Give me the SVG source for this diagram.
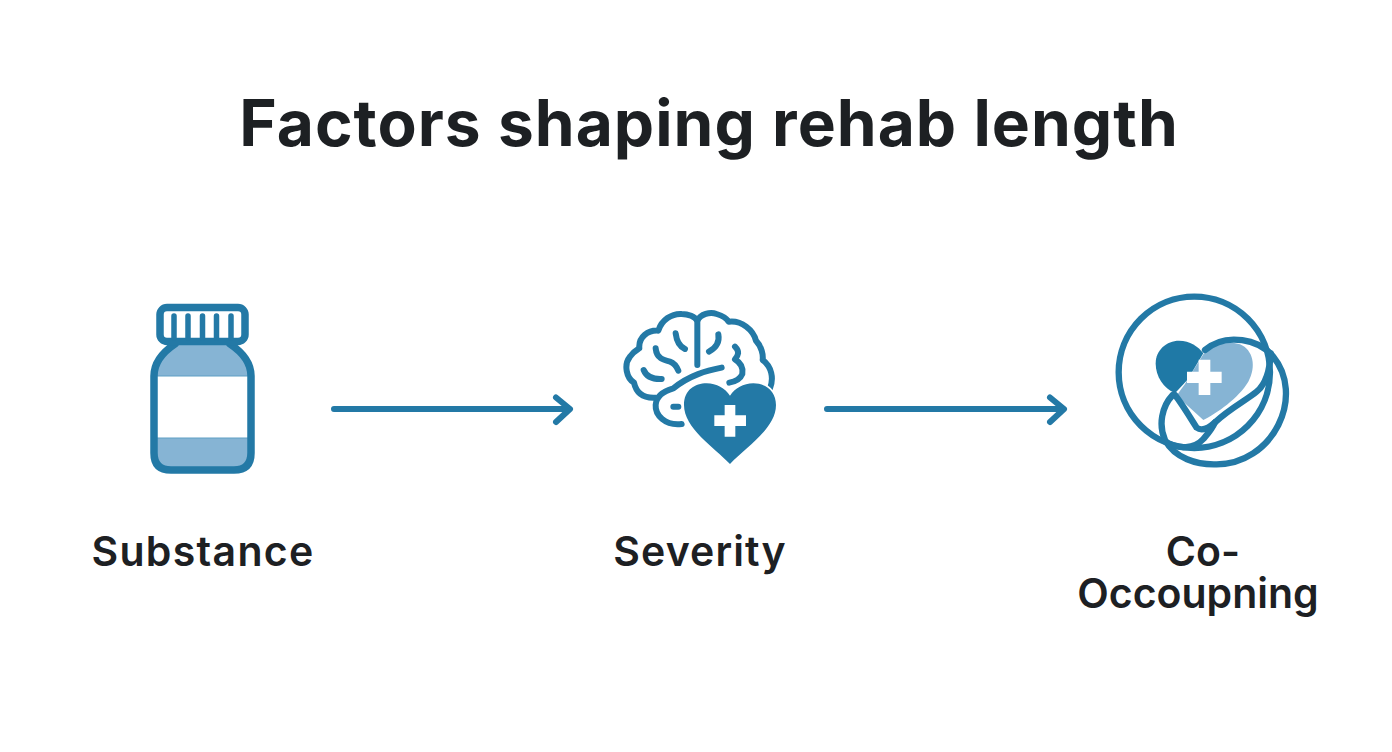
<svg xmlns="http://www.w3.org/2000/svg" width="1392" height="752" viewBox="0 0 1392 752">
<style>
.t{font-family:Inter,"Liberation Sans",sans-serif;font-weight:600;fill:#1d2023;text-anchor:middle}
.lb{font-size:41px}
.s{fill:none;stroke:#2379a6;stroke-linecap:round;stroke-linejoin:round}
.f{fill:#2379a6}
.li{fill:#86b4d4}
.conn{fill:none;stroke:#2379a6;stroke-width:6;stroke-linecap:round;stroke-linejoin:round}
</style>
<rect width="1392" height="752" fill="#fff"/>
<text id="title" class="t" x="709" y="146" font-size="64" letter-spacing="1.030" style="font-weight:700">Factors shaping rehab length</text>
<g id="connectors" class="conn">
<path d="M334 409H569M556 397.500L570 409L556 422"/>
<path d="M827 409H1063M1050 397.500L1064 409L1050 422"/>
</g>
<g id="node-substance">
<path class="li" d="M175 345H231L251 368V460Q251 470 240 470H165Q154 470 154 460V368Z"/>
<rect x="154" y="376" width="97" height="62" fill="#fff"/>
<path d="M157 376H248M157 438H248" stroke="#5f9fc4" stroke-width="1" fill="none"/>
<path class="s" stroke-width="7.500" d="M175 344Q154 358 154 376V453Q154 470 171 470H234Q251 470 251 453V376Q251 358 230 344"/>
<rect class="s" x="160" y="307.500" width="85" height="34" rx="7" stroke-width="7.500"/>
<path class="s" stroke-width="5.500" d="M174 316V338M188 316V338M202.500 316V338M216.500 316V338M231 316V338"/>
<text class="t lb" x="203" y="566" letter-spacing="1.300">Substance</text>
</g>
<g id="node-severity">
<g transform="translate(610 300) scale(.3333)">
<g class="s" stroke-width="18">
<path d="M215 372C165 378 135 345 137 315C139 285 165 272 190 265C240 225 290 212 335 203"/>
<path d="M137 293C105 295 80 285 72 248C50 235 40 195 60 170C70 155 80 150 88 145C85 110 115 90 145 92C155 60 185 40 215 42C235 42 255 50 262 62C272 42 300 35 320 42C340 48 350 55 356 65C395 60 430 90 438 122C455 140 460 165 458 180C485 200 492 235 480 265"/>
<path d="M262 62V195"/>
<path d="M197 100C200 125 210 140 225 147"/>
<path d="M325 103C330 130 315 145 297 155"/>
<path d="M137 145C140 175 160 180 180 185C195 190 200 200 205 212"/>
<path d="M101 210C110 232 130 238 155 237"/>
<path d="M375 140C390 155 385 165 375 178C395 190 400 205 397 222C390 240 375 245 358 248"/>
<path d="M190 320H205"/>
</g>
<path d="M360 492C310 440 222 385 222 315C222 270 255 250 290 250C320 250 345 265 360 287C375 265 400 250 430 250C470 250 498 275 498 315C498 385 410 440 360 492Z" class="f" stroke="#fff" stroke-width="10" paint-order="stroke"/>
<path fill="#fff" d="M344 315H376V346H408V378H376V410H344V378H313V346H344Z"/>
</g>
<text class="t lb" x="700" y="566" letter-spacing="1.100">Severity</text>
</g>
<g id="node-co-occoupning">
<g transform="translate(1100 285) scale(.3333)">
<path d="M310 208C340 178 385 165 420 178C460 195 470 245 445 290C415 340 350 385 310 405L230 332C245 310 258 295 262 285Z" class="li"/>
<path d="M225 325C190 310 167 275 167 235C167 195 200 167 237 167C270 167 295 185 310 205L262 285Z" fill="#1f79a6"/>
<path fill="#fff" d="M296 224H331V260H365V294H331V330H296V294H261V260H296Z"/>
<g class="s" stroke-width="19">
<circle cx="283" cy="262" r="227"/>
<path d="M218 330C185 365 175 420 195 465C225 520 290 540 350 538C430 538 500 490 535 420C570 350 565 270 520 215C480 165 380 140 315 195"/>
<path d="M225 330C245 355 275 405 290 428C305 440 325 430 345 412C390 370 440 345 470 320C500 295 510 250 512 205"/>
<path d="M192 468C235 497 285 490 310 462C325 445 335 435 345 412"/>
</g>
</g>
<text class="t lb"><tspan x="1203" y="566">Co-</tspan><tspan x="1198" y="608">Occoupning</tspan></text>
</g>
</svg>
